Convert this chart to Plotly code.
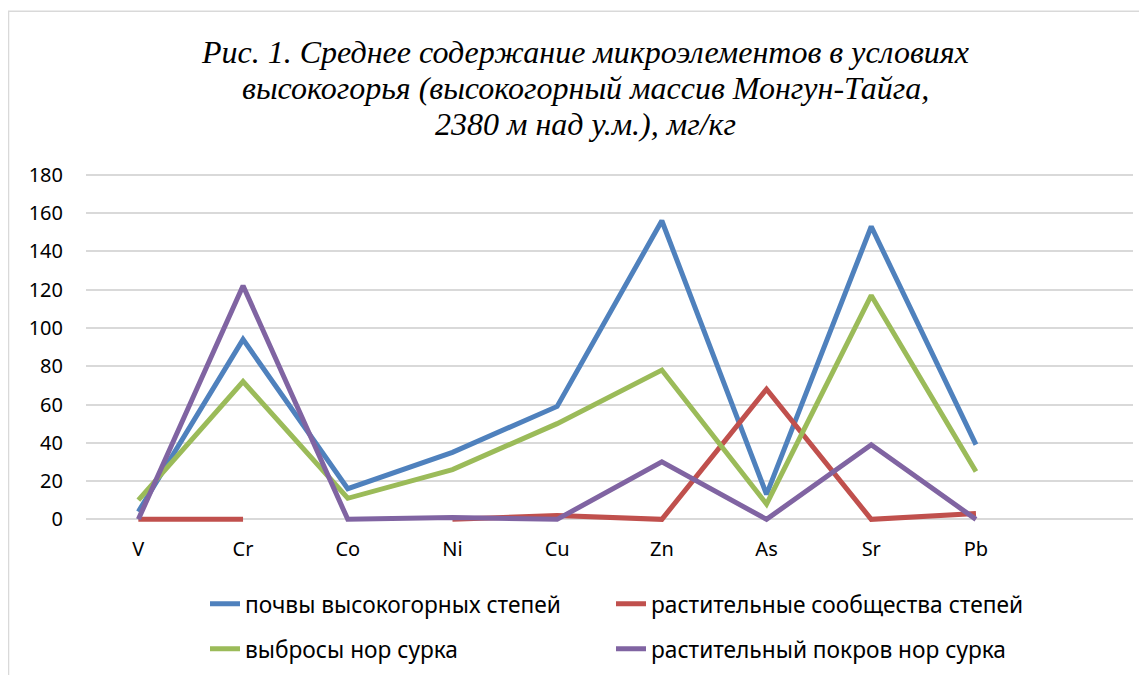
import plotly.graph_objects as go

elements = ['V', 'Cr', 'Co', 'Ni', 'Cu', 'Zn', 'As', 'Sr', 'Pb']

soil = [4, 94, 16, 35, 59, 156, 13, 153, 39]
plants_steppe = [0, 0, None, 0, 2, 0, 68, 0, 3]
burrow_soil = [10, 72, 11, 26, 50, 78, 8, 117, 25]
burrow_plants = [0, 122, 0, 1, 0, 30, 0, 39, 0]

names = ['почвы высокогорных степей', 'растительные сообщества степей',
         'выбросы нор сурка', 'растительный покров нор сурка']
colors = ['#4F81BD', '#C0504D', '#9BBB59', '#8064A2']
legends = ['legend', 'legend2', 'legend3', 'legend4']

title_lines = ['Рис. 1. Среднее содержание микроэлементов в условиях',
               'высокогорья (высокогорный массив Монгун-Тайга,',
               '2380 м над у.м.), мг/кг']
title_y = [52, 88, 124]

x = list(range(len(elements)))

# page body has an 8px margin, so the figure is made 8px smaller and everything is placed relative to that
W, H = 1139, 667

fig = go.Figure()
for vals, name, col, lg in zip([soil, plants_steppe, burrow_soil, burrow_plants], names, colors, legends):
    fig.add_trace(go.Scatter(x=x, y=vals, name=name, mode='lines', showlegend=True,
                             line=dict(color=col, width=5), legend=lg))

for line, ty in zip(title_lines, title_y):
    fig.add_annotation(text=line, xref='paper', yref='paper', x=(585 - 86) / 1047,
                       y=(527 - ty) / 356, xanchor='center', yanchor='middle', showarrow=False,
                       font=dict(family='Liberation Serif', size=32, color='#000000', style='italic'))

legend_style = dict(orientation='h', xref='container', yref='container',
                    xanchor='left', yanchor='middle',
                    font=dict(family='Noto Sans', size=22.7, color='#000000'),
                    bgcolor='rgba(0,0,0,0)')

fig.update_layout(
    width=W, height=H, showlegend=True,
    margin=dict(l=78, r=14, t=163, b=148, autoexpand=False),
    paper_bgcolor='white', plot_bgcolor='white',
    xaxis=dict(range=[-0.5, 9.5], tickvals=x, ticktext=elements, showgrid=False,
               zeroline=False, showline=False, ticks='', ticklabelstandoff=8, automargin=False,
               tickfont=dict(family='Noto Sans', size=20, color='#000000')),
    yaxis=dict(range=[-4, 182], tickvals=list(range(0, 181, 20)), showgrid=True,
               gridcolor='#D9D9D9', gridwidth=1.5, zeroline=False, showline=False,
               ticks='', ticklabelstandoff=22, automargin=False,
               tickfont=dict(family='Noto Sans', size=20, color='#000000')),
    legend=dict(legend_style, x=197 / W, y=1 - 596 / H),
    legend2=dict(legend_style, x=603 / W, y=1 - 596 / H),
    legend3=dict(legend_style, x=197 / W, y=1 - 641 / H),
    legend4=dict(legend_style, x=603 / W, y=1 - 641 / H),
    shapes=[dict(type='rect', xref='paper', yref='paper', x0=-0.074, x1=1.5,
                 y0=-1, y1=1.449, line=dict(color='#D9D9D9', width=1.5), layer='below')],
)

fig.write_html('out.html')
